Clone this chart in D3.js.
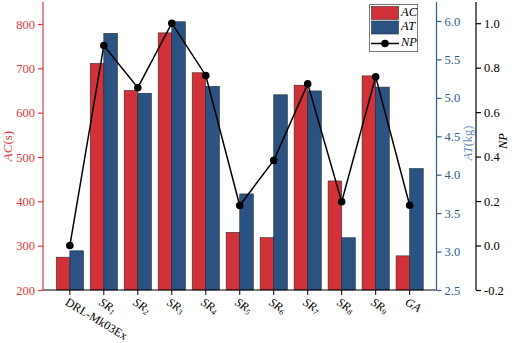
<!DOCTYPE html>
<html><head><meta charset="utf-8">
<script src="https://cdn.jsdelivr.net/npm/d3@7"></script>
<style>body{margin:0;background:#fff}svg{display:block}text{font-family:"Liberation Serif","Times New Roman",serif}</style>
</head><body><svg id="c" width="512" height="343"></svg>
<script>
const categories = ["DRL-Mk03Ex","SR1","SR2","SR3","SR4","SR5","SR6","SR7","SR8","SR9","GA"];
const acValues = [274, 711, 650, 780, 690, 330, 318, 662, 446, 683, 277];
const atValues = [3.01, 5.84, 5.06, 5.99, 5.15, 3.75, 5.04, 5.09, 3.18, 5.14, 4.08];
const npValues = [0.00, 0.90, 0.71, 1.00, 0.765, 0.18, 0.383, 0.727, 0.197, 0.759, 0.181];
const acTicks = [200,300,400,500,600,700,800];
const atTicks = [2.5,3.0,3.5,4.0,4.5,5.0,5.5,6.0];
const npTicks = [-0.2,0,0.2,0.4,0.6,0.8,1.0];

const RED = "#d13239", BLUE = "#2b5280", AXRED = "#e03a40", AXBLUE = "#2f5d8c";
const svg = d3.select("#c");
const L = 43, R = 436.5, B = 290, T = 2;

const x = d3.scalePoint().domain(categories).range([L, R]).padding(0.79);
const step = x.step();
const bw = step * 0.4;
const yAC = d3.scaleLinear().domain([200, 800]).range([B, 24]);
const yAT = d3.scaleLinear().domain([2.5, 6.0]).range([B, 21]);
const yNP = d3.scaleLinear().domain([-0.2, 1.0]).range([B, 23.2]);

// bars
svg.append("g").selectAll("rect").data(categories).join("rect")
  .attr("x", d => x(d) - bw).attr("width", bw)
  .attr("y", (d,i) => yAC(acValues[i])).attr("height", (d,i) => B - yAC(acValues[i]))
  .attr("fill", RED).attr("stroke", "#3a2a2a").attr("stroke-width", 0.6);
svg.append("g").selectAll("rect").data(categories).join("rect")
  .attr("x", d => x(d)).attr("width", bw)
  .attr("y", (d,i) => yAT(atValues[i])).attr("height", (d,i) => B - yAT(atValues[i]))
  .attr("fill", BLUE).attr("stroke", "#1e2c3c").attr("stroke-width", 0.6);

// line
const line = d3.line().x((d,i) => x(categories[i])).y(d => yNP(d));
svg.append("path").datum(npValues).attr("d", line).attr("fill","none").attr("stroke","#000").attr("stroke-width",1.5);
svg.append("g").selectAll("circle").data(npValues).join("circle")
  .attr("cx", (d,i) => x(categories[i])).attr("cy", d => yNP(d)).attr("r", 3.8).attr("fill","#000");

// x axis
const gx = svg.append("g").attr("transform", `translate(0,${B})`);
gx.append("line").attr("x1", L).attr("x2", R).attr("stroke", "#000").attr("stroke-width", 1.2);
gx.selectAll("line.t").data(categories).join("line").attr("class","t")
  .attr("x1", d => x(d)).attr("x2", d => x(d)).attr("y1", 0).attr("y2", 5).attr("stroke","#000").attr("stroke-width",1);
const lab = gx.selectAll("text").data(categories).join("text")
  .attr("transform", d => `translate(${x(d) - 4},${12}) rotate(31)`)
  .attr("font-size", 12).attr("fill", "#000").attr("dominant-baseline", "middle");
lab.each(function(d){
  const t = d3.select(this);
  const m = d.match(/^SR(\d)$/);
  if (m) {
    t.append("tspan").attr("font-style","italic").text("SR");
    t.append("tspan").attr("font-style","italic").attr("font-size", 8).attr("dy", 3).text(m[1]);
  } else if (d === "GA") {
    t.attr("font-style","italic").text(d);
  } else t.text(d);
});

// left axis
function styleAxis(g, color) {
  g.attr("font-family", null);
  g.select(".domain").attr("stroke", color).attr("stroke-width", 1.2);
  g.selectAll(".tick line").attr("stroke", color).attr("stroke-width", 1.2);
  g.selectAll(".tick text").attr("fill", color).attr("font-size", 12.5)
    .attr("font-family", '"Liberation Serif","Times New Roman",serif');
}
const gL = svg.append("g").attr("transform", `translate(${L},0)`)
  .call(d3.axisLeft(yAC).tickValues(acTicks).tickSize(5).tickSizeOuter(0).tickPadding(3));
gL.select(".domain").attr("d", `M0,${B}V${T}`);
styleAxis(gL, AXRED);
svg.append("text").attr("transform", `translate(12,146) rotate(-90)`).attr("text-anchor","middle")
  .attr("fill", AXRED).attr("font-size", 13)
  .call(t => { t.append("tspan").attr("font-style","italic").text("AC"); t.append("tspan").text("(s)"); });

// middle axis
const gM = svg.append("g").attr("transform", `translate(${R},0)`)
  .call(d3.axisRight(yAT).tickValues(atTicks).tickFormat(d3.format(".1f")).tickSize(5).tickSizeOuter(0).tickPadding(3));
gM.select(".domain").attr("d", `M0,${B}V${T}`);
styleAxis(gM, AXBLUE);
svg.append("text").attr("transform", `translate(472,143) rotate(-90)`).attr("text-anchor","middle")
  .attr("fill", "#6a8cba").attr("font-size", 12.5)
  .call(t => { t.append("tspan").attr("font-style","italic").text("AT"); t.append("tspan").text("(kg)"); });

// right axis
const gR = svg.append("g").attr("transform", `translate(476,0)`)
  .call(d3.axisRight(yNP).tickValues(npTicks).tickFormat(d3.format(".1f")).tickSize(5).tickSizeOuter(0).tickPadding(3));
gR.select(".domain").attr("d", `M0,${B}V${T}`);
styleAxis(gR, "#000");
gR.selectAll(".tick text").text(d => d3.format(".1f")(d).replace("−","-"));
svg.append("text").attr("transform", `translate(507,141) rotate(-90)`).attr("text-anchor","middle")
  .attr("fill", "#000").attr("font-size", 12.5).attr("font-style","italic").text("NP");

// legend
const lg = svg.append("g");
lg.append("rect").attr("x", 369.5).attr("y", 4.5).attr("width", 48).attr("height", 47)
  .attr("fill","#fff").attr("stroke","#777").attr("stroke-width",1);
lg.append("rect").attr("x", 371.5).attr("y", 6.5).attr("width", 27).attr("height", 13).attr("fill", RED).attr("stroke","#3a2a2a").attr("stroke-width",0.6);
lg.append("rect").attr("x", 371.5).attr("y", 21).attr("width", 27).attr("height", 13).attr("fill", BLUE).attr("stroke","#1e2c3c").attr("stroke-width",0.6);
lg.append("line").attr("x1", 371).attr("x2", 399).attr("y1", 43.5).attr("y2", 43.5).attr("stroke","#000").attr("stroke-width",1.5);
lg.append("circle").attr("cx", 385).attr("cy", 43.5).attr("r", 3.8).attr("fill","#000");
[["AC",13],["AT",27.5],["NP",43.5]].forEach(([s,yy]) => {
  lg.append("text").attr("x", 401).attr("y", yy).attr("dominant-baseline","middle")
    .attr("font-size", 12.5).attr("font-style","italic").attr("fill","#000").text(s);
});
</script></body></html>
